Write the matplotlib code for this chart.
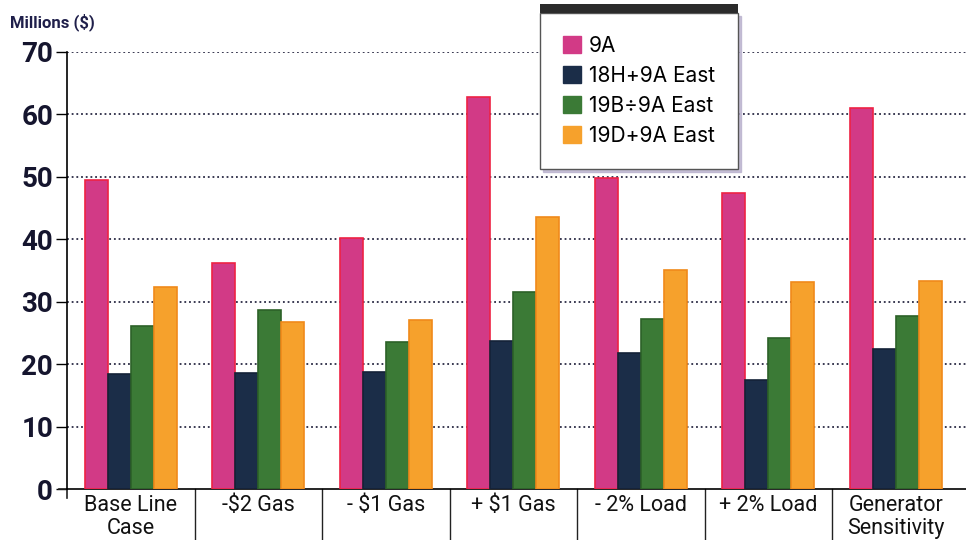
import numpy as np
import matplotlib.pyplot as plt
from matplotlib.patches import Patch, Rectangle
from matplotlib.transforms import blended_transform_factory

categories = ["Base Line\nCase", "-$2 Gas", "- $1 Gas", "+ $1 Gas",
              "- 2% Load", "+ 2% Load", "Generator\nSensitivity"]
series_names = ["9A", "18H+9A East", "19B\u00f79A East", "19D+9A East"]
s_9a = [49.5, 36.2, 40.2, 62.8, 49.8, 47.4, 61.1]
s_18h = [18.4, 18.6, 18.8, 23.7, 21.8, 17.5, 22.4]
s_19b = [26.1, 28.7, 23.6, 31.6, 27.2, 24.2, 27.7]
s_19d = [32.4, 26.8, 27.0, 43.6, 35.1, 33.2, 33.3]
yticks = [0, 10, 20, 30, 40, 50, 60, 70]

fills = ["#d23a86", "#1b2d48", "#3b7a36", "#f6a12c"]
edges = ["#ee2244", "#142238", "#2c6128", "#f08a1a"]

cond = ["Roboto", "DejaVu Sans"]

fig = plt.figure(figsize=(9.66, 5.4), dpi=100)
ax = fig.add_axes([67 / 966, 51 / 540, 899 / 966, 437 / 540])

x = np.arange(len(categories))
w = 0.18
for i, vals in enumerate([s_9a, s_18h, s_19b, s_19d]):
    ax.bar(x + (i - 1.5) * w, vals, width=w, color=fills[i],
           edgecolor=edges[i], linewidth=1.2, zorder=3)

ax.set_xlim(-0.5, 6.55)
ax.set_ylim(0, 70)
ax.set_yticks(yticks)
ax.set_yticklabels([str(t) for t in yticks], fontsize=20, fontweight="bold",
                   family=cond, color="#15152e")
for t in yticks[1:]:
    ax.axhline(t, color="#2a2a44", linestyle=(0, (1, 1.6)), linewidth=1.3, zorder=1)

ax.tick_params(axis="y", length=8, width=1, pad=2)
ax.set_xticks(x)
ax.set_xticklabels(categories, fontsize=15.5, family=cond, color="#111111",
                   linespacing=1.15, va="top")
ax.tick_params(axis="x", length=0, pad=4)

for s in ["top", "right"]:
    ax.spines[s].set_visible(False)
ax.spines["left"].set_bounds(0, 70)
ax.spines["left"].set_linewidth(1.2)
ax.spines["bottom"].set_linewidth(1.2)

# separators under the axis between categories
trans = blended_transform_factory(ax.transData, ax.transAxes)
for b in np.arange(0.5, 6.5, 1.0):
    ax.plot([b, b], [0, -0.12], transform=trans, color="#222222",
            linewidth=1.0, clip_on=False)
ax.plot([-0.5, -0.5], [0, -0.02], transform=trans, color="#222222",
        linewidth=1.2, clip_on=False)
ax.plot([-0.56, -0.5], [0, 0], transform=trans, color="#222222",
        linewidth=1.2, clip_on=False)

fig.text(10 / 966, 1 - 22 / 540, "Millions ($)", fontsize=12, fontweight="bold",
         family=cond, color="#1f1f4a", va="center")

handles = [Patch(facecolor=fills[i], edgecolor=fills[i]) for i in range(4)]
leg = fig.legend(handles, series_names, loc="upper left",
                 bbox_to_anchor=(540 / 966, 1 - 13 / 540),
                 prop={"family": "Inter", "size": 15}, frameon=True,
                 fancybox=False, shadow={"color": "#b8b0cc", "alpha": 0.8},
                 edgecolor="#555555",
                 handlelength=0.85, handleheight=0.85, handletextpad=0.4,
                 labelspacing=0.48, borderpad=1.1, borderaxespad=0)
leg.get_frame().set_linewidth(1.0)
leg.set_zorder(10)

fig.canvas.draw()
bb = leg.get_window_extent().transformed(fig.transFigure.inverted())
fig.patches.append(Rectangle((bb.x0, bb.y1 - 0.0005), bb.width, 9 / 540,
                             transform=fig.transFigure, facecolor="#2b2b2b",
                             edgecolor="none", zorder=11))

fig.savefig("out.png", dpi=100)
